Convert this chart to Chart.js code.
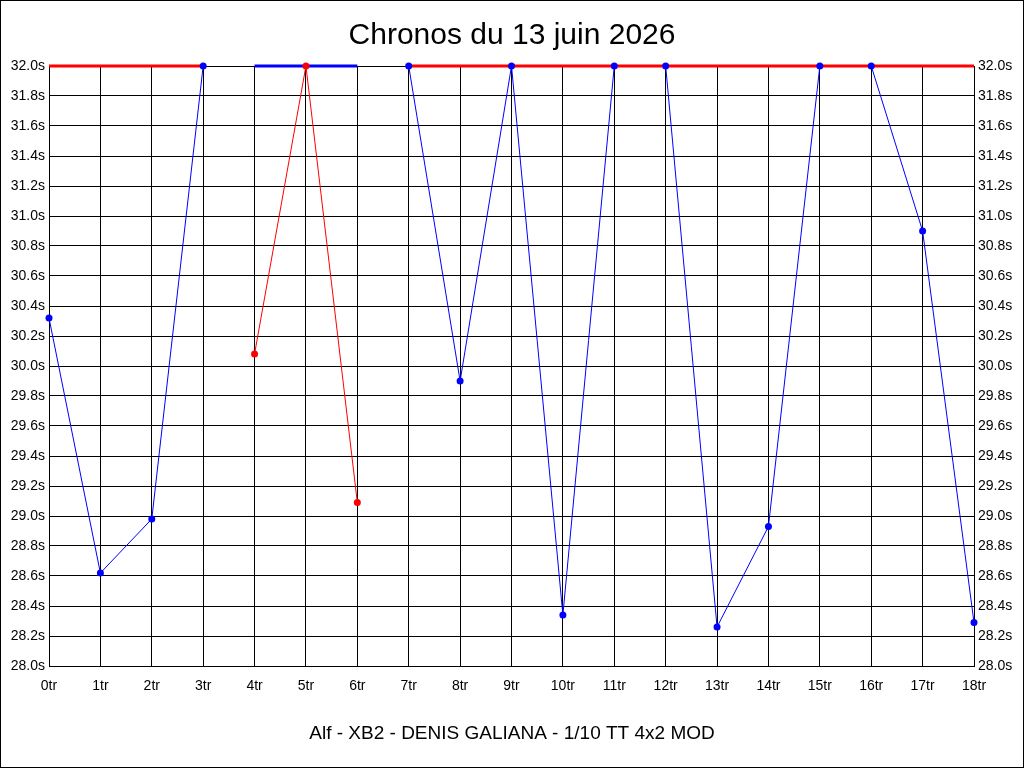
<!DOCTYPE html>
<html>
<head>
<meta charset="utf-8">
<script src="https://cdn.jsdelivr.net/npm/chart.js@4/dist/chart.umd.min.js"></script>
<style>
  html, body { margin: 0; padding: 0; background: #fff; }
  canvas { display: block; }
</style>
</head>
<body>
<canvas id="c" width="1024" height="768"></canvas>
<script>
// ---- data ----
const laps = ['0tr','1tr','2tr','3tr','4tr','5tr','6tr','7tr','8tr','9tr','10tr','11tr','12tr','13tr','14tr','15tr','16tr','17tr','18tr'];
const blueTimes = [30.32, 28.62, 28.98, 32.0, null, null, null, 32.0, 29.90, 32.0, 28.34, 32.0, 32.0, 28.26, 28.93, 32.0, 32.0, 30.90, 28.29];
const redTimes  = [null, null, null, null, 30.08, 32.0, 29.09, null, null, null, null, null, null, null, null, null, null, null, null];
const redCap    = [32.0, 32.0, 32.0, 32.0, null, null, null, 32.0, 32.0, 32.0, 32.0, 32.0, 32.0, 32.0, 32.0, 32.0, 32.0, 32.0, 32.0];
const blueCap   = [null, null, null, null, 32.0, 32.0, 32.0, null, null, null, null, null, null, null, null, null, null, null, null];
const yTickLabels = ['28.0s','28.2s','28.4s','28.6s','28.8s','29.0s','29.2s','29.4s','29.6s','29.8s','30.0s','30.2s','30.4s','30.6s','30.8s','31.0s','31.2s','31.4s','31.6s','31.8s','32.0s'];
const titleText = 'Chronos du 13 juin 2026';
const subtitleText = 'Alf - XB2 - DENIS GALIANA - 1/10 TT 4x2 MOD';

const BLUE = '#0000ff';
const RED = '#ff0000';
const FONT = "'Liberation Sans', Arial, sans-serif";

const frame = {
  id: 'frame',
  beforeDraw(chart) {
    const ctx = chart.ctx;
    ctx.save();
    ctx.fillStyle = '#fff';
    ctx.fillRect(0, 0, chart.width, chart.height);
    ctx.restore();
  },
  afterDraw(chart) {
    const ctx = chart.ctx;
    ctx.save();
    ctx.strokeStyle = '#000';
    ctx.lineWidth = 1;
    ctx.strokeRect(0.5, 0.5, chart.width - 1, chart.height - 1);
    ctx.restore();
  }
};

new Chart(document.getElementById('c'), {
  type: 'line',
  data: {
    labels: laps,
    datasets: [
      { data: blueTimes, showLine: false, pointRadius: 3.5, pointBackgroundColor: BLUE, pointBorderColor: BLUE, pointBorderWidth: 0, clip: false },
      { data: redTimes, showLine: false, pointRadius: 3.5, pointBackgroundColor: RED, pointBorderColor: RED, pointBorderWidth: 0, clip: false },
      { data: redCap, borderColor: RED, borderWidth: 3, pointRadius: 0, spanGaps: false, clip: false, tension: 0 },
      { data: blueCap, borderColor: BLUE, borderWidth: 3, pointRadius: 0, spanGaps: false, clip: false, tension: 0 },
      { data: redTimes, borderColor: RED, borderWidth: 1, pointRadius: 0, spanGaps: false, clip: false, tension: 0 },
      { data: blueTimes, borderColor: BLUE, borderWidth: 1, pointRadius: 0, spanGaps: false, clip: false, tension: 0 }
    ]
  },
  options: {
    responsive: false,
    devicePixelRatio: 1,
    animation: false,
    events: [],
    layout: { padding: 0 },
    plugins: {
      legend: { display: false },
      tooltip: { enabled: false },
      title: {
        display: true,
        text: titleText,
        color: '#000',
        font: { family: FONT, size: 30, weight: 'normal', lineHeight: 1.2 },
        padding: { top: 17.5, bottom: 12.5 }
      },
      subtitle: {
        display: true,
        position: 'bottom',
        text: subtitleText,
        color: '#000',
        font: { family: FONT, size: 19, weight: 'normal', lineHeight: 1.2 },
        padding: { top: 22, bottom: 23.2 }
      }
    },
    scales: {
      x: {
        type: 'category',
        offset: false,
        grid: { color: '#000', lineWidth: 1, drawTicks: false },
        border: { color: '#000', width: 1 },
        ticks: { color: '#000', font: { family: FONT, size: 14 }, padding: 12, autoSkip: false, maxRotation: 0, minRotation: 0 },
        afterFit(scale) { scale.height = 34; }
      },
      y: {
        type: 'linear',
        position: 'left',
        min: 28, max: 32,
        grid: { color: '#000', lineWidth: 1, drawTicks: false },
        border: { color: '#000', width: 1 },
        ticks: { stepSize: 0.2, color: '#000', font: { family: FONT, size: 14 }, padding: 4,
                 callback: (v, i) => yTickLabels[i] },
        afterFit(scale) { scale.width = 49; }
      },
      y2: {
        type: 'linear',
        position: 'right',
        min: 28, max: 32,
        grid: { display: false, drawTicks: false },
        border: { color: '#000', width: 1 },
        ticks: { stepSize: 0.2, color: '#000', font: { family: FONT, size: 14 }, padding: 4,
                 callback: (v, i) => yTickLabels[i] },
        afterFit(scale) { scale.width = 50; }
      }
    }
  },
  plugins: [frame]
});
</script>
</body>
</html>
